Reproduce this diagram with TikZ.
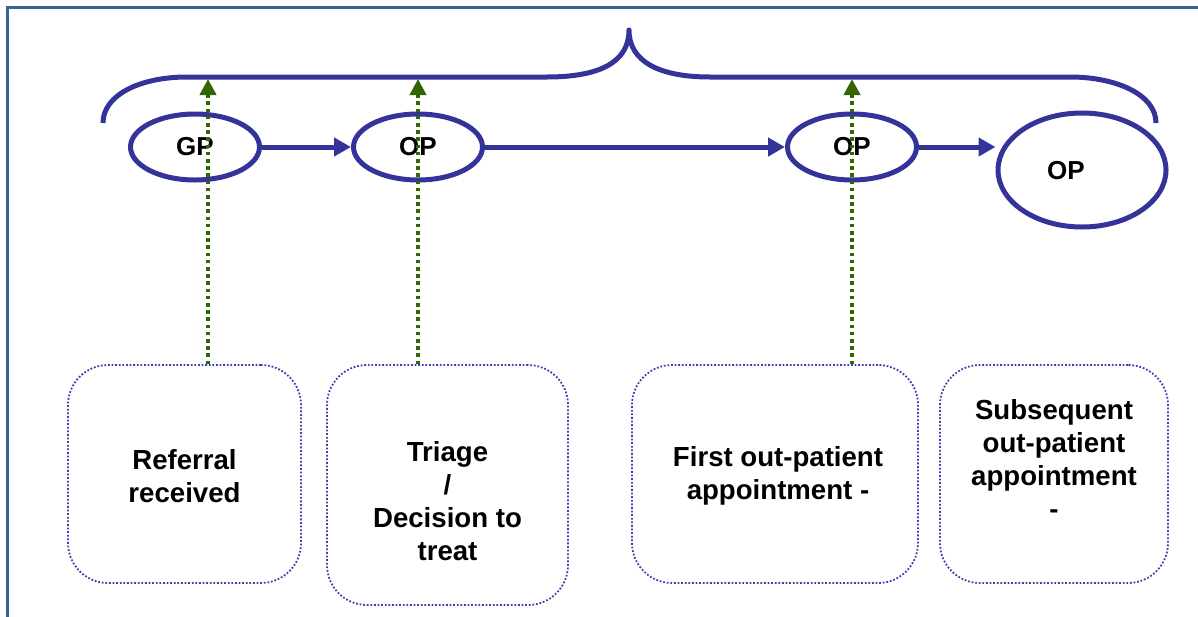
\documentclass[tikz,border=0pt]{standalone}
\usepackage{fontspec}
\setmainfont{Liberation Sans}
\usetikzlibrary{shapes.geometric,arrows.meta}
\definecolor{flowblue}{HTML}{333399}
\definecolor{tickgreen}{HTML}{336600}
\definecolor{framecol}{HTML}{3A6298}
\definecolor{boxblue}{HTML}{4040B0}

\begin{document}
\begin{tikzpicture}[x=0.5pt,y=-0.5pt,
    visit/.style={draw=flowblue,ellipse,line width=2.5pt,inner sep=0pt,minimum width=64.5pt,minimum height=33pt,font=\bfseries\fontsize{13}{15}\selectfont},
    stage/.style={draw=boxblue,rounded corners=20pt,line width=0.9pt,dash pattern=on 0.9pt off 0.9pt,inner sep=0pt},
    stagetext/.style={align=center,font=\bfseries\fontsize{13.8}{16.5}\selectfont},
    flow/.style={draw=flowblue,line width=2.5pt,-{Triangle[length=8.5pt,width=9pt]}},
    tick/.style={draw=tickgreen,line width=2pt,dash pattern=on 1.8pt off 1.8pt,-{Triangle[length=8pt,width=8pt]}}]

    \useasboundingbox (0,0) rectangle (1198,616);

    % frame
    \draw [framecol,line width=1.5pt] (7,620) -- (7,7) -- (1202,7);

    % brace over the pathway
    \draw [flowblue,line width=2.5pt,line join=round]
    (103,123) .. controls (103,95) and (140,77) ..
    (187,77) -- (547,77) .. controls (600,77) and (629,62) ..
    (629,30) .. controls (629,62) and (660,77) ..
    (710,77) -- (1070,77) .. controls (1117,77) and (1156,95) ..
    (1156,123);

    \coordinate (b1) at (208,79);
    \coordinate (b2) at (418,79);
    \coordinate (b3) at (852,79);

    % visits
    \node [visit] (gp) at (195,147) {GP};
    \node [visit] (op1) at (418,147) {OP};
    \node [visit] (op2) at (852,147) {OP};
    \node [visit,minimum width=84pt,minimum height=57pt] (op3) at (1082,170) {};
    \node [font=\bfseries\fontsize{13}{15}\selectfont] (op3txt) at (1066,171) {OP};

    \draw [flow] (gp) -- (op1);
    \draw [flow] (op1) -- (op2);
    \draw [flow] (op2.east) -- (op2.east -| op3.west);

    % stages
    \node [stage,minimum width=116.5pt,minimum height=109pt] (ref) at (184.5,474) {};
    \node [stage,minimum width=120.5pt,minimum height=120pt] (triage) at (447.5,485) {};
    \node [stage,minimum width=143pt,minimum height=109pt] (first) at (775,474) {};
    \node [stage,minimum width=114pt,minimum height=109pt] (subs) at (1054,474) {};

    \node [stagetext] (reftxt) at (184.5,476) {Referral\\received};
    \node [stagetext] (triagetxt) at (447.5,501) {Triage\\/\\Decision to\\treat};
    \node [stagetext] (firsttxt) at (778,476) {First out-patient\\appointment -};
    \node [stagetext] (substxt) at (1054,459) {Subsequent\\out-patient\\appointment\\-};

    \draw [tick] (b1 |- ref.north) -- (b1);
    \draw [tick] (b2 |- triage.north) -- (b2);
    \draw [tick] (b3 |- first.north) -- (b3);

\end{tikzpicture}
\end{document}
